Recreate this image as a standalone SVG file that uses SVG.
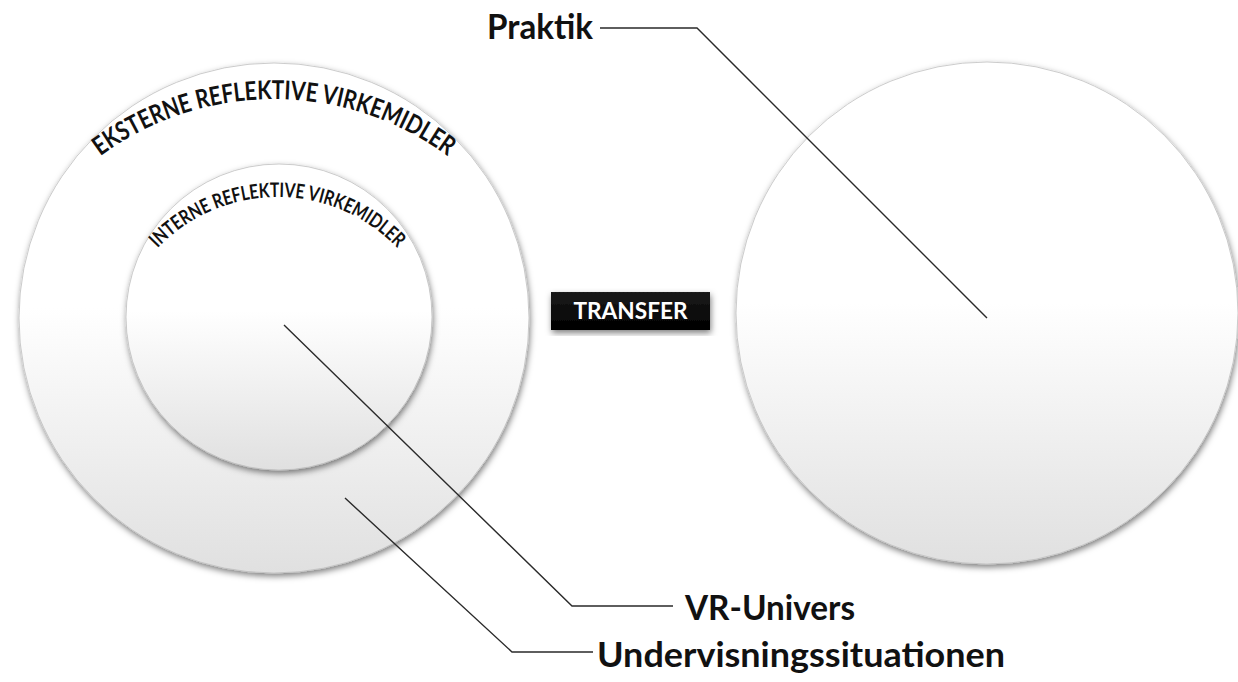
<svg xmlns="http://www.w3.org/2000/svg" width="1238" height="682" viewBox="0 0 1238 682">
<defs>
<linearGradient id="disc" x1="0" y1="0" x2="0" y2="1">
<stop offset="0" stop-color="#ffffff"/>
<stop offset="0.48" stop-color="#ffffff"/>
<stop offset="1" stop-color="#e0e0e0"/>
</linearGradient>
<linearGradient id="box" x1="0" y1="0" x2="0" y2="1">
<stop offset="0" stop-color="#1a1a1a"/>
<stop offset="1" stop-color="#000000"/>
</linearGradient>
<filter id="shadow" x="-10%" y="-10%" width="120%" height="125%">
<feDropShadow dx="1" dy="3" stdDeviation="3" flood-color="#000" flood-opacity="0.5"/>
</filter>
<path id="arcOuter" d="M -19 392 A 293 293 0 0 1 567 392"/>
<path id="arcInner" d="M 111.5 363 A 166 166 0 0 1 443.5 363"/>
</defs>
<style>
.disc{fill:url(#disc);stroke:#c0c0c0;stroke-width:0.8;filter:url(#shadow)}
.arc{font-family:Lato,"Open Sans","Liberation Sans",sans-serif;font-weight:bold;fill:#111}
.label{font-family:Lato,"Open Sans","Liberation Sans",sans-serif;font-weight:bold;font-size:34px;fill:#111}
.conn{fill:none;stroke:#2a2a2a;stroke-width:1.4}
</style>
<rect width="1238" height="682" fill="#ffffff"/>
<g id="undervisningssituationen">
<circle class="disc" cx="274" cy="318" r="255"/>
<text class="arc" font-size="26"><textPath href="#arcOuter" startOffset="50%" text-anchor="middle" textLength="372" lengthAdjust="spacingAndGlyphs">EKSTERNE REFLEKTIVE VIRKEMIDLER</textPath></text>
</g>
<g id="vr-univers">
<circle class="disc" cx="279" cy="317" r="153"/>
<text class="arc" font-size="20"><textPath href="#arcInner" startOffset="50%" text-anchor="middle" textLength="268" lengthAdjust="spacingAndGlyphs">INTERNE REFLEKTIVE VIRKEMIDLER</textPath></text>
</g>
<g id="praktik">
<circle class="disc" cx="987" cy="313" r="251"/>
</g>
<g id="transfer">
<rect x="551" y="292" width="159" height="38" fill="url(#box)" filter="url(#shadow)"/>
<text x="630.5" y="319" text-anchor="middle" font-family="Lato,'Open Sans','Liberation Sans',sans-serif" font-weight="bold" font-size="22" fill="#ffffff" textLength="114" lengthAdjust="spacingAndGlyphs">TRANSFER</text>
</g>
<g id="labels">
<text class="label" x="487" y="39" textLength="106" lengthAdjust="spacingAndGlyphs">Praktik</text>
<text class="label" x="685" y="620" textLength="170" lengthAdjust="spacingAndGlyphs">VR-Univers</text>
<text class="label" x="597" y="667" textLength="408" lengthAdjust="spacingAndGlyphs">Undervisningssituationen</text>
</g>
<g id="connectors">
<polyline class="conn" points="600,28 697,28 987,318"/>
<polyline class="conn" points="284,325 572,606 673,606"/>
<polyline class="conn" points="345,498 512,652 593,652"/>
</g>
</svg>
